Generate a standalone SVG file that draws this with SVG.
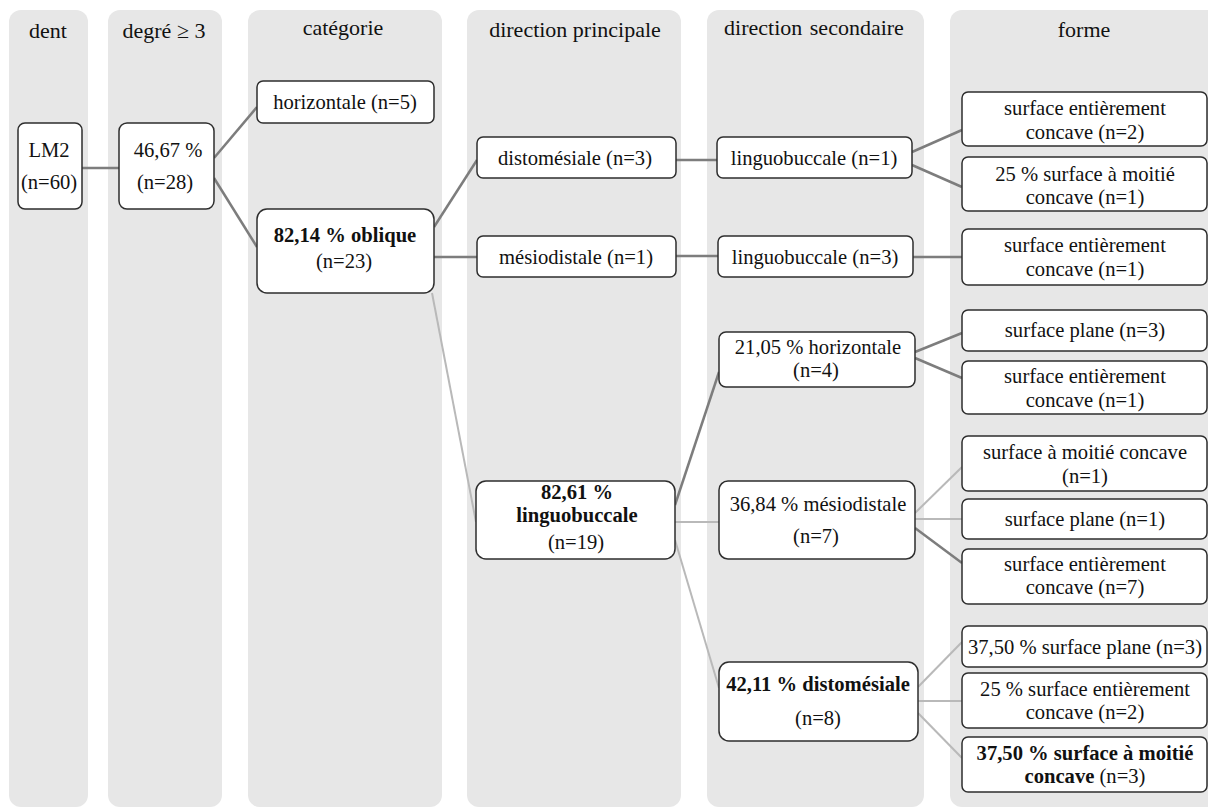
<svg xmlns="http://www.w3.org/2000/svg" width="1208" height="807" viewBox="0 0 1208 807">
<style>
.col{fill:#e7e7e7}
.box{fill:#fff;stroke:#2e2e2e;stroke-width:1.5}
text{font-family:'Liberation Serif','Times New Roman',serif;font-size:20.6px;fill:#111;text-anchor:middle}
.hdr{font-size:22px}
.b{font-weight:bold}
.c1{stroke:#7d7d7d;stroke-width:2.5;fill:none}
.c2{stroke:#b9b9b9;stroke-width:2;fill:none}
</style>
<rect width="1208" height="807" fill="#fff"/>
<g id="columns">
<rect class="col" x="9" y="10" width="79" height="797" rx="12"/>
<rect class="col" x="108" y="10" width="114" height="797" rx="12"/>
<rect class="col" x="248" y="10" width="194" height="797" rx="12"/>
<rect class="col" x="467" y="10" width="214" height="797" rx="12"/>
<rect class="col" x="707" y="10" width="217" height="797" rx="12"/>
<rect class="col" x="950" y="10" width="270" height="797" rx="12"/>
<text class="hdr" x="48" y="38">dent</text>
<text class="hdr" x="164" y="38">degré ≥ 3</text>
<text class="hdr" x="343" y="35">catégorie</text>
<text class="hdr" x="575" y="37">direction principale</text>
<text class="hdr" x="814" y="35" word-spacing="2">direction secondaire</text>
<text class="hdr" x="1084" y="37">forme</text>
</g>
<g id="connectors">
<line class="c1" x1="82" y1="168" x2="119" y2="168"/>
<line class="c1" x1="214" y1="158" x2="257" y2="107"/>
<line class="c1" x1="214" y1="178" x2="257" y2="247"/>
<line class="c1" x1="434" y1="227" x2="477" y2="160"/>
<line class="c1" x1="434" y1="257" x2="477" y2="257"/>
<line class="c2" x1="432" y1="293" x2="476" y2="522"/>
<line class="c1" x1="676" y1="160" x2="717" y2="160"/>
<line class="c1" x1="676" y1="256" x2="718" y2="256"/>
<line class="c1" x1="912" y1="152" x2="962" y2="130"/>
<line class="c1" x1="912" y1="165" x2="962" y2="187"/>
<line class="c1" x1="913" y1="257" x2="962" y2="257"/>
<line class="c1" x1="675" y1="505" x2="719" y2="372"/>
<line class="c2" x1="675" y1="522" x2="719" y2="522"/>
<line class="c2" x1="675" y1="540" x2="719" y2="688"/>
<line class="c1" x1="915" y1="352" x2="962" y2="333"/>
<line class="c1" x1="915" y1="358" x2="962" y2="378"/>
<line class="c2" x1="915" y1="513" x2="962" y2="467"/>
<line class="c2" x1="915" y1="519" x2="962" y2="519"/>
<line class="c1" x1="915" y1="528" x2="962" y2="563"/>
<line class="c2" x1="918" y1="687" x2="962" y2="642"/>
<line class="c2" x1="918" y1="701" x2="962" y2="701"/>
<line class="c2" x1="918" y1="713" x2="962" y2="758"/>
</g>
<g id="n-lm2"><rect class="box" x="18" y="123" width="64" height="86" rx="7"/><text x="49" y="157">LM2</text><text x="49" y="189">(n=60)</text></g>
<g id="n-degre"><rect class="box" x="119" y="123" width="95" height="86" rx="8"/><text x="168" y="157">46,67 %</text><text x="165" y="189">(n=28)</text></g>
<g id="n-horizontale"><rect class="box" x="257" y="81" width="177" height="42" rx="6"/><text x="345" y="109">horizontale (n=5)</text></g>
<g id="n-oblique"><rect class="box" x="257" y="209" width="177" height="84" rx="10"/><text class="b" x="345" y="242">82,14 % oblique</text><text x="344" y="268">(n=23)</text></g>
<g id="n-dp-distomesiale"><rect class="box" x="477" y="137" width="199" height="41" rx="6"/><text x="575" y="165">distomésiale (n=3)</text></g>
<g id="n-dp-mesiodistale"><rect class="box" x="477" y="236" width="199" height="41" rx="6"/><text x="576" y="264">mésiodistale  (n=1)</text></g>
<g id="n-dp-linguobuccale"><rect class="box" x="476" y="481" width="199" height="78" rx="10"/><text class="b" x="577" y="499">82,61 %</text><text class="b" x="577" y="522">linguobuccale</text><text x="576" y="549">(n=19)</text></g>
<g id="n-ds-lb1"><rect class="box" x="717" y="137" width="195" height="41" rx="6"/><text x="814" y="165">linguobuccale (n=1)</text></g>
<g id="n-ds-lb3"><rect class="box" x="718" y="236" width="195" height="41" rx="6"/><text x="815" y="264">linguobuccale (n=3)</text></g>
<g id="n-ds-horizontale"><rect class="box" x="719" y="332" width="196" height="55" rx="7"/><text x="818" y="354">21,05 % horizontale</text><text x="816" y="377">(n=4)</text></g>
<g id="n-ds-mesiodistale"><rect class="box" x="719" y="481" width="196" height="78" rx="9"/><text x="818" y="511">36,84 % mésiodistale</text><text x="816" y="543">(n=7)</text></g>
<g id="n-ds-distomesiale"><rect class="box" x="719" y="662" width="199" height="79" rx="10"/><text class="b" x="818" y="691">42,11 % distomésiale</text><text x="818" y="725">(n=8)</text></g>
<g id="n-f1"><rect class="box" x="962" y="92" width="245" height="54" rx="6"/><text x="1085" y="115">surface entièrement</text><text x="1085" y="139">concave (n=2)</text></g>
<g id="n-f2"><rect class="box" x="962" y="157" width="245" height="54" rx="6"/><text x="1085" y="181">25 % surface  à moitié</text><text x="1085" y="204">concave (n=1)</text></g>
<g id="n-f3"><rect class="box" x="962" y="229" width="245" height="56" rx="6"/><text x="1085" y="252">surface entièrement</text><text x="1085" y="276">concave (n=1)</text></g>
<g id="n-f4"><rect class="box" x="962" y="310" width="245" height="41" rx="6"/><text x="1085" y="337">surface plane (n=3)</text></g>
<g id="n-f5"><rect class="box" x="962" y="361" width="245" height="53" rx="6"/><text x="1085" y="383">surface entièrement</text><text x="1085" y="407">concave (n=1)</text></g>
<g id="n-f6"><rect class="box" x="962" y="436" width="245" height="55" rx="6"/><text x="1085" y="459">surface à moitié concave</text><text x="1085" y="483">(n=1)</text></g>
<g id="n-f7"><rect class="box" x="962" y="499" width="245" height="40" rx="6"/><text x="1085" y="526">surface plane (n=1)</text></g>
<g id="n-f8"><rect class="box" x="962" y="549" width="245" height="55" rx="6"/><text x="1085" y="571">surface entièrement</text><text x="1085" y="594">concave (n=7)</text></g>
<g id="n-f9"><rect class="box" x="962" y="626" width="245" height="41" rx="6"/><text x="1085" y="654">37,50 % surface plane (n=3)</text></g>
<g id="n-f10"><rect class="box" x="962" y="673" width="245" height="55" rx="6"/><text x="1085" y="696">25 % surface entièrement</text><text x="1085" y="719">concave (n=2)</text></g>
<g id="n-f11"><rect class="box" x="962" y="737" width="245" height="55" rx="6"/><text class="b" x="1085" y="760">37,50 % surface à moitié</text><text x="1085" y="783"><tspan class="b">concave</tspan> (n=3)</text></g>
</svg>
